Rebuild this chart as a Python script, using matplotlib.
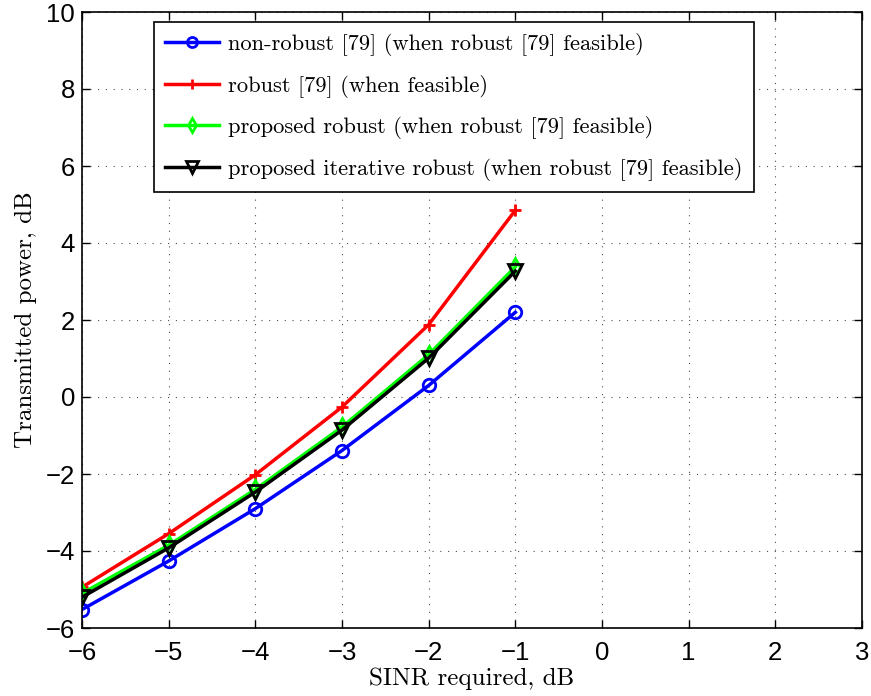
import matplotlib
matplotlib.use("Agg")
import matplotlib.pyplot as plt

sinr_db = [-6, -5, -4, -3, -2, -1]
non_robust = [-5.52, -4.26, -2.90, -1.39, 0.30, 2.20]
robust = [-4.94, -3.55, -2.02, -0.26, 1.88, 4.85]
proposed = [-5.10, -3.85, -2.40, -0.78, 1.10, 3.38]
proposed_iter = [-5.20, -3.92, -2.47, -0.86, 1.01, 3.27]

labels = [
    "non-robust [79] (when robust [79] feasible)",
    "robust [79] (when feasible)",
    "proposed robust (when robust [79] feasible)",
    "proposed iterative robust (when robust [79] feasible)",
]
xticks = [-6, -5, -4, -3, -2, -1, 0, 1, 2, 3]
yticks = [-6, -4, -2, 0, 2, 4, 6, 8, 10]

fig = plt.figure(figsize=(8.71, 6.96), dpi=100)
ax = fig.add_axes([82 / 871, 68 / 696, 780 / 871, 616 / 696])

lw = 2.5
ax.plot(sinr_db, non_robust, color="#0000ff", lw=lw, marker="o", ms=9,
        mfc="none", mew=2, label=labels[0])
ax.plot(sinr_db, robust, color="#ff0000", lw=lw, marker="+", ms=9,
        mew=2, label=labels[1])
ax.plot(sinr_db, proposed, color="#00ff00", lw=lw, marker="d", ms=9,
        mfc="none", mew=2, label=labels[2])
ax.plot(sinr_db, proposed_iter, color="black", lw=lw, marker="v", ms=10,
        mfc="none", mew=2, label=labels[3])

ax.set_xlim(-6, 3)
ax.set_ylim(-6, 10)
ax.set_xticks(xticks)
ax.set_yticks(yticks)
fmt = lambda t: f"\u2212{abs(t)}" if t < 0 else str(t)
ax.set_xticklabels([fmt(t) for t in xticks],
                   fontfamily="Liberation Sans", fontsize=18.5)
ax.set_yticklabels([fmt(t) for t in yticks],
                   fontfamily="Liberation Sans", fontsize=18.5)
ax.tick_params(direction="in", length=6, width=1, top=True, right=True)
ax.tick_params(axis="x", pad=9)
ax.tick_params(axis="y", pad=5)
ax.grid(True, color="black", linestyle=(0, (1, 6)), linewidth=0.8, alpha=0.7)
for s in ax.spines.values():
    s.set_linewidth(1.2)

ax.set_xlabel("SINR required, dB", fontfamily="cmr10", fontsize=18, labelpad=2)
ax.set_ylabel("Transmitted power, dB", fontfamily="cmr10", fontsize=18, labelpad=6)

leg = ax.legend(loc="upper left", bbox_to_anchor=((154 - 82) / 780, (628 - 22) / 616),
                borderaxespad=0,
                prop={"family": "cmr10", "size": 16.2},
                fancybox=False, framealpha=1, edgecolor="black",
                handlelength=2.4, borderpad=0.5, labelspacing=0.82,
                handletextpad=0.4, markerscale=0.8)
leg.get_frame().set_linewidth(1.2)

fig.savefig("out.png", dpi=100)
